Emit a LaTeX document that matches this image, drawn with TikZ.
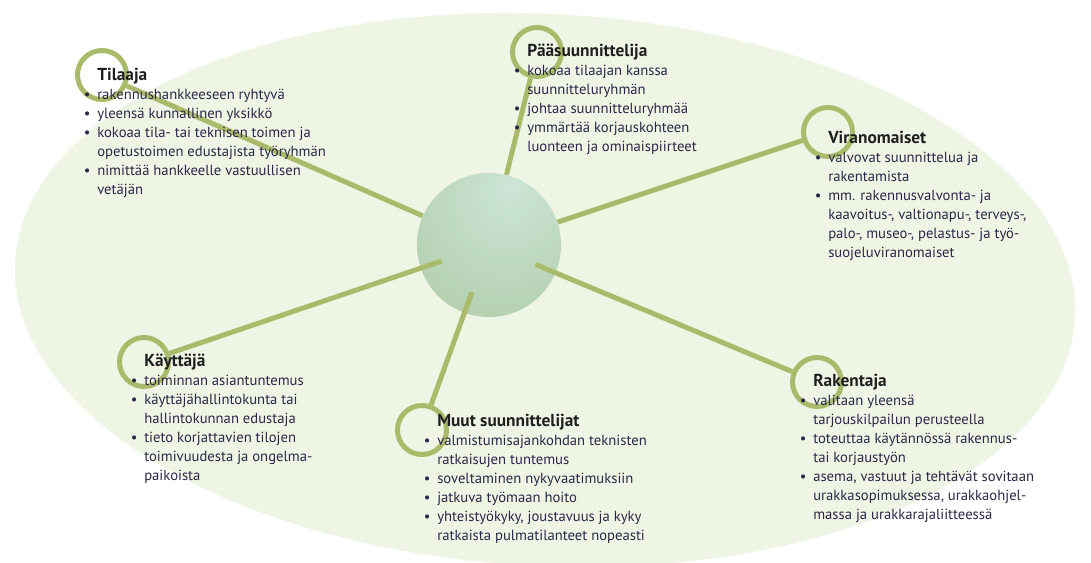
\documentclass[tikz,border=0pt]{standalone}
\usepackage{fontspec}
\setmainfont{PT Sans}
\definecolor{tausta}{RGB}{239,245,228}
\definecolor{puola}{RGB}{169,187,107}
\definecolor{hubvalo}{RGB}{204,229,216}
\definecolor{hubvari}{RGB}{166,196,152}
\definecolor{tekstivari}{RGB}{46,38,72}
\pgfdeclareradialshading{pallo}{\pgfpoint{8bp}{20bp}}{color(0bp)=(hubvalo); color(30bp)=(hubvalo!50!hubvari); color(62bp)=(hubvari); color(90bp)=(hubvari)}
\newcommand{\otsikko}[1]{{\fontsize{13}{14}\selectfont\bfseries\color{black!88}#1}}
\newcommand{\kohta}{\llap{\textbullet\hspace{5pt}}}

\begin{document}
\begin{tikzpicture}[x=0.75pt,y=-0.75pt]
  \tikzstyle{rengas}=[circle, draw=puola, line width=3.75pt, minimum size=36.75pt, inner sep=0pt]
  \tikzstyle{pinna}=[draw=puola, line width=3.75pt]
  \tikzstyle{lista}=[anchor=north west, align=left, inner sep=0pt, text=tekstivari, font=\fontsize{11}{14.2}\selectfont]

  \useasboundingbox (0,0) rectangle (1091,563);
  \fill[tausta, rotate around={-3:(545,290)}] (545,290) ellipse [x radius=398pt, y radius=207pt];

  \node[rengas] (tilaaja) at (102,75) {};
  \node[rengas] (paa) at (537,52) {};
  \node[rengas] (viranomaiset) at (828,132) {};
  \node[rengas] (kayttaja) at (144,362) {};
  \node[rengas] (muut) at (422,430) {};
  \node[rengas] (rakentaja) at (817,382) {};

  \node[circle, minimum size=108pt, inner sep=0pt] (raja) at (489,245) {};
  \draw[pinna] (raja) -- (tilaaja);
  \draw[pinna] (raja) -- (paa);
  \draw[pinna] (raja) -- (viranomaiset);
  \node[circle, minimum size=108pt, inner sep=0pt, shading=pallo] (pallo) at (489,245) {};
  \node[circle, minimum size=75pt, inner sep=0pt] (ydin) at (pallo) {};
  \draw[pinna] (ydin) -- (kayttaja);
  \draw[pinna] (ydin) -- (muut);
  \draw[pinna] (ydin) -- (rakentaja);

  \node[lista] (tilaajateksti) at (97,68) {\otsikko{Tilaaja}\\
    \kohta rakennushankkeeseen ryhtyvä\\
    \kohta yleensä kunnallinen yksikkö\\
    \kohta kokoaa tila- tai teknisen toimen ja\\
    opetustoimen edustajista työryhmän\\
    \kohta nimittää hankkeelle vastuullisen\\
    vetäjän};
  \node[lista] (paateksti) at (527,44) {\otsikko{Pääsuunnittelija}\\
    \kohta kokoaa tilaajan kanssa\\
    suunnitteluryhmän\\
    \kohta johtaa suunnitteluryhmää\\
    \kohta ymmärtää korjauskohteen\\
    luonteen ja ominaispiirteet};
  \node[lista] (viranomaisteksti) at (828,131) {\otsikko{Viranomaiset}\\
    \kohta valvovat suunnittelua ja\\
    rakentamista\\
    \kohta mm. rakennusvalvonta- ja\\
    kaavoitus-, valtionapu-, terveys-,\\
    palo-, museo-, pelastus- ja työ-\\
    suojeluviranomaiset};
  \node[lista] (kayttajateksti) at (144,354) {\otsikko{Käyttäjä}\\
    \kohta toiminnan asiantuntemus\\
    \kohta käyttäjähallintokunta tai\\
    hallintokunnan edustaja\\
    \kohta tieto korjattavien tilojen\\
    toimivuudesta ja ongelma-\\
    paikoista};
  \node[lista] (muutteksti) at (437,414) {\otsikko{Muut suunnittelijat}\\
    \kohta valmistumisajankohdan teknisten\\
    ratkaisujen tuntemus\\
    \kohta soveltaminen nykyvaatimuksiin\\
    \kohta jatkuva työmaan hoito\\
    \kohta yhteistyökyky, joustavuus ja kyky\\
    ratkaista pulmatilanteet nopeasti};
  \node[lista] (rakentajateksti) at (813,374) {\otsikko{Rakentaja}\\
    \kohta valitaan yleensä\\
    tarjouskilpailun perusteella\\
    \kohta toteuttaa käytännössä rakennus-\\
    tai korjaustyön\\
    \kohta asema, vastuut ja tehtävät sovitaan\\
    urakkasopimuksessa, urakkaohjel-\\
    massa ja urakkarajaliitteessä};
\end{tikzpicture}
\end{document}
